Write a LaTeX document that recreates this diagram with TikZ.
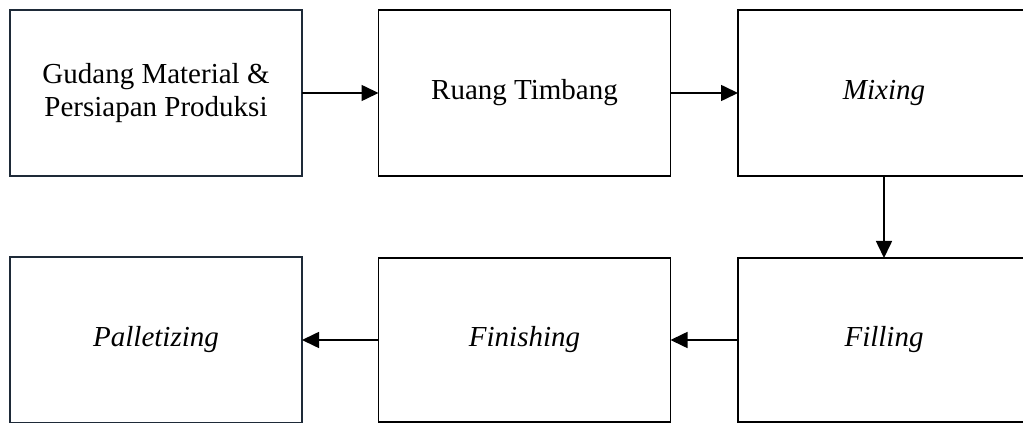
\documentclass[tikz,border=0pt]{standalone}
\usepackage{fontspec}
\setmainfont{Liberation Serif}
\usetikzlibrary{arrows.meta, positioning}
\definecolor{StageDark}{RGB}{30, 42, 56}

\begin{document}
\begin{tikzpicture}[x=1pt, y=1pt,
    stage/.style={draw, line width=0.75pt, minimum width=146pt, minimum height=83pt,
        inner sep=0pt, outer sep=0pt, align=center, font=\fontsize{14.5}{16.5}\selectfont},
    stagedark/.style={stage, draw=StageDark, line width=1pt},
    flow/.style={line width=0.8pt, -{Triangle[length=8.5pt, width=8pt]}}]
    \clip (0,0) rectangle (511.5,211.5);
    % top row
    \node[stagedark] (gudang) at (78, 165) {Gudang Material \&\\Persiapan Produksi};
    \node[stage] (timbang) at (262.25, 165) {Ruang Timbang};
    \node[stage] (mixing) at (442, 165) {\itshape Mixing};
    % bottom row
    \node[stage, minimum height=82pt] (filling) at (442, 41.5) {\itshape Filling};
    \node[stage, minimum height=82pt] (finishing) at (262.25, 41.5) {\itshape Finishing};
    \node[stagedark] (pallet) at (78, 41.5) {\itshape Palletizing};
    \draw[flow] (gudang) -- (timbang);
    \draw[flow] (timbang) -- (mixing);
    \draw[flow] (mixing) -- (filling);
    \draw[flow] (filling) -- (finishing);
    \draw[flow] (finishing) -- (pallet);
\end{tikzpicture}
\end{document}
